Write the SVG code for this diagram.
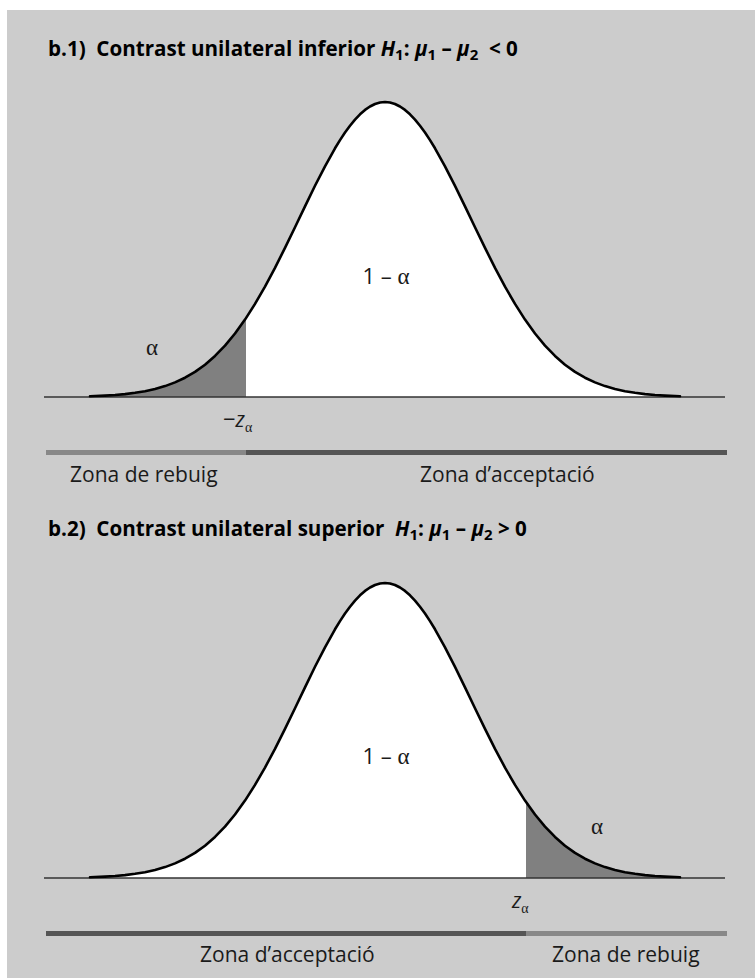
<svg xmlns="http://www.w3.org/2000/svg" width="755" height="978" viewBox="0 0 755 978">
<style>
.title{font-family:"Open Sans","Liberation Sans",sans-serif;font-weight:bold;font-size:20.6px;fill:#000;white-space:pre}
.it{font-style:italic}
.sub{font-size:15px}
.lbl{font-family:"Open Sans","Liberation Sans",sans-serif;font-size:21px;fill:#1a1a1a;white-space:pre}
.gr{font-family:"Liberation Serif","DejaVu Serif",serif;font-size:23px;fill:#1a1a1a}
.num{font-family:"Open Sans","Liberation Sans",sans-serif;font-size:22px;fill:#1a1a1a;white-space:pre}
.zi{font-family:"Open Sans","Liberation Sans",sans-serif;font-style:italic;font-size:21px;fill:#1a1a1a}
.zs{font-family:"Liberation Serif","DejaVu Serif",serif;font-size:14px;fill:#1a1a1a}
.curve{fill:none;stroke:#000;stroke-width:2.6;stroke-linejoin:round;stroke-linecap:round}
.base{stroke:#333;stroke-width:1.5}
.shade{fill:#808080}
</style>
<defs>
<path id="bellLine" d="M90,396.2 L95,396.05 L105,395.6 L115,395.0 L125,394.1 L135,392.8 L145,391.2 L155,389.0 L165,386.1 L175,382.4 L185,377.7 L195,371.9 L205,364.7 L215,355.9 L225,345.6 L235,333.5 L245,319.6 L255,303.9 L265,286.6 L275,267.8 L285,247.9 L295,227.3 L305,206.4 L315,185.8 L325,166.3 L335,148.3 L340,140.1 L345,132.5 L350,125.7 L355,119.6 L360,114.3 L365,109.9 L370,106.5 L375,104.0 L380,102.5 L385,102 L390,102.5 L395,104.0 L400,106.5 L405,109.9 L410,114.3 L415,119.6 L420,125.7 L425,132.5 L430,140.1 L435,148.3 L445,166.3 L455,185.8 L465,206.4 L475,227.3 L485,247.9 L495,267.8 L505,286.6 L515,303.9 L525,319.6 L535,333.5 L545,345.6 L555,355.9 L565,364.7 L575,371.9 L585,377.7 L595,382.4 L605,386.1 L615,389.0 L625,391.2 L635,392.8 L645,394.1 L655,395.0 L665,395.6 L675,396.05 L680,396.2"/>
<clipPath id="bellClip">
<path d="M90,397 L90,396.2 L95,396.05 L105,395.6 L115,395.0 L125,394.1 L135,392.8 L145,391.2 L155,389.0 L165,386.1 L175,382.4 L185,377.7 L195,371.9 L205,364.7 L215,355.9 L225,345.6 L235,333.5 L245,319.6 L255,303.9 L265,286.6 L275,267.8 L285,247.9 L295,227.3 L305,206.4 L315,185.8 L325,166.3 L335,148.3 L340,140.1 L345,132.5 L350,125.7 L355,119.6 L360,114.3 L365,109.9 L370,106.5 L375,104.0 L380,102.5 L385,102 L390,102.5 L395,104.0 L400,106.5 L405,109.9 L410,114.3 L415,119.6 L420,125.7 L425,132.5 L430,140.1 L435,148.3 L445,166.3 L455,185.8 L465,206.4 L475,227.3 L485,247.9 L495,267.8 L505,286.6 L515,303.9 L525,319.6 L535,333.5 L545,345.6 L555,355.9 L565,364.7 L575,371.9 L585,377.7 L595,382.4 L605,386.1 L615,389.0 L625,391.2 L635,392.8 L645,394.1 L655,395.0 L665,395.6 L675,396.05 L680,396.2 L680,397 Z"/>
</clipPath>
</defs>
<rect x="7" y="10" width="748" height="968" fill="#cccccc"/>

<g id="panel1">
<text class="title" x="48" y="56">b.1)  Contrast unilateral inferior <tspan class="it">H</tspan><tspan class="sub" dy="4">1</tspan><tspan dy="-4">: </tspan><tspan class="it">μ</tspan><tspan class="sub" dy="4">1</tspan><tspan dy="-4"> – </tspan><tspan class="it">μ</tspan><tspan class="sub" dy="4">2</tspan><tspan dy="-4">  &lt; 0</tspan></text>
<g clip-path="url(#bellClip)">
<rect x="0" y="90" width="755" height="310" fill="#fff"/>
<rect class="shade" x="0" y="90" width="246" height="310"/>
</g>
<line class="base" x1="44" y1="397" x2="725" y2="397"/>
<use href="#bellLine" class="curve"/>
<text class="gr" x="152" y="355" text-anchor="middle">α</text>
<text x="386" y="284" text-anchor="middle"><tspan class="num">1 – </tspan><tspan class="gr">α</tspan></text>
<text x="223" y="427"><tspan class="num">−</tspan><tspan class="zi">z</tspan><tspan class="zs" dy="5">α</tspan></text>
<rect x="46" y="450" width="200" height="5" fill="#888"/>
<rect x="246" y="450" width="481" height="5" fill="#555"/>
<text class="lbl" x="70" y="482">Zona de rebuig</text>
<text class="lbl" x="420" y="482">Zona d’acceptació</text>
</g>

<g id="panel2">
<text class="title" x="48" y="536">b.2)  Contrast unilateral superior  <tspan class="it">H</tspan><tspan class="sub" dy="4">1</tspan><tspan dy="-4">: </tspan><tspan class="it">μ</tspan><tspan class="sub" dy="4">1</tspan><tspan dy="-4"> – </tspan><tspan class="it">μ</tspan><tspan class="sub" dy="4">2</tspan><tspan dy="-4"> &gt; 0</tspan></text>
<g transform="translate(0,481)">
<g clip-path="url(#bellClip)">
<rect x="0" y="90" width="755" height="310" fill="#fff"/>
<rect class="shade" x="526" y="90" width="229" height="310"/>
</g>
<line class="base" x1="44" y1="397" x2="725" y2="397"/>
<use href="#bellLine" class="curve"/>
</g>
<text class="gr" x="597" y="834" text-anchor="middle">α</text>
<text x="386" y="764" text-anchor="middle"><tspan class="num">1 – </tspan><tspan class="gr">α</tspan></text>
<text x="512" y="908"><tspan class="zi">z</tspan><tspan class="zs" dy="5">α</tspan></text>
<rect x="46" y="931" width="480" height="5" fill="#555"/>
<rect x="526" y="931" width="201" height="5" fill="#888"/>
<text class="lbl" x="200" y="962">Zona d’acceptació</text>
<text class="lbl" x="552" y="962">Zona de rebuig</text>
</g>
</svg>
